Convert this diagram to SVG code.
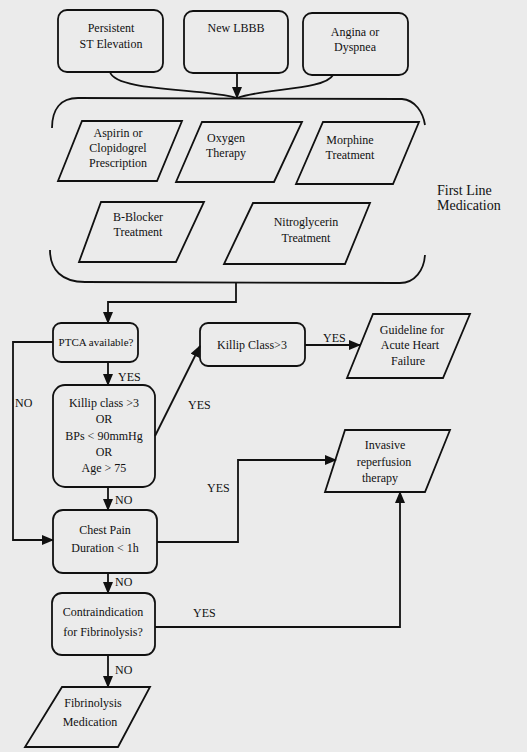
<svg xmlns="http://www.w3.org/2000/svg" width="527" height="752" viewBox="0 0 527 752">
  <style>
    .box { fill: none; stroke: #111; stroke-width: 1.8; }
    .io { fill: none; stroke: #111; stroke-width: 1.8; stroke-linejoin: miter; }
    .t { font-family: "Liberation Serif", "Times New Roman", serif; font-size: 12px; fill: #111; text-anchor: middle; }
    .sm { font-size: 11px; }
    .lbl { font-family: "Liberation Serif", "Times New Roman", serif; font-size: 12px; fill: #111; }
    .big { font-family: "Liberation Serif", "Times New Roman", serif; font-size: 14px; fill: #111; }
    .wire { fill: none; stroke: #111; stroke-width: 1.8; }
  </style>
  <defs>
    <marker id="arrow" markerWidth="12" markerHeight="10" refX="11" refY="5" orient="auto" markerUnits="userSpaceOnUse">
      <path d="M0,0 L12,5 L0,10 Z" fill="#111"/>
    </marker>
  </defs>

  <rect width="527" height="752" fill="#ebebeb"/>

  <!-- presenting signs -->
  <g id="persistent-st">
    <rect class="box" x="58" y="10" width="105" height="62" rx="9"/>
    <text class="t" x="111" y="32">Persistent</text>
    <text class="t" x="111" y="48">ST Elevation</text>
  </g>
  <g id="new-lbbb">
    <rect class="box" x="184" y="11" width="104" height="62" rx="9"/>
    <text class="t" x="236" y="32">New LBBB</text>
  </g>
  <g id="angina">
    <rect class="box" x="303" y="13" width="105" height="62" rx="9"/>
    <text class="t" x="355" y="36">Angina or</text>
    <text class="t" x="355" y="51">Dyspnea</text>
  </g>

  <!-- first line medication group -->
  <g id="first-line">
    <path class="wire" d="M52,128 C52,110 60,98 78,98 L402,99 C415,100 423,112 425,125"/>
    <path class="wire" d="M50,250 C50,270 62,282 85,282 L400,283 C415,283 424,270 425,255"/>
    <text class="big" x="437" y="195">First Line</text>
    <text class="big" x="437" y="210">Medication</text>
  </g>
  <g id="aspirin">
    <polygon class="io" points="82,121 182,121 157,181 58,181"/>
    <text class="t" x="118" y="137">Aspirin or</text>
    <text class="t" x="118" y="152">Clopidogrel</text>
    <text class="t" x="118" y="167">Prescription</text>
  </g>
  <g id="oxygen">
    <polygon class="io" points="202,122 302,122 274,182 176,182"/>
    <text class="t" x="226" y="142">Oxygen</text>
    <text class="t" x="226" y="157">Therapy</text>
  </g>
  <g id="morphine">
    <polygon class="io" points="323,122 419,122 393,184 296,184"/>
    <text class="t" x="350" y="144">Morphine</text>
    <text class="t" x="350" y="159">Treatment</text>
  </g>
  <g id="b-blocker">
    <polygon class="io" points="101,202 204,202 176,262 79,262"/>
    <text class="t" x="138" y="221">B-Blocker</text>
    <text class="t" x="138" y="236">Treatment</text>
  </g>
  <g id="nitroglycerin">
    <polygon class="io" points="253,203 370,203 345,264 224,264"/>
    <text class="t" x="306" y="226">Nitroglycerin</text>
    <text class="t" x="306" y="242">Treatment</text>
  </g>

  <!-- decisions -->
  <g id="ptca">
    <rect class="box" x="53" y="323" width="85" height="39" rx="8"/>
    <text class="t sm" x="96" y="346">PTCA available?</text>
  </g>
  <g id="killip-class">
    <rect class="box" x="200" y="323" width="105" height="43" rx="8"/>
    <text class="t" x="252" y="349">Killip Class&gt;3</text>
  </g>
  <g id="heart-failure">
    <polygon class="io" points="373,314 470,314 443,378 347,378"/>
    <text class="t" x="412" y="334">Guideline for</text>
    <text class="t" x="410" y="349">Acute Heart</text>
    <text class="t" x="408" y="365">Failure</text>
  </g>
  <g id="risk">
    <rect class="box" x="53" y="385" width="102" height="102" rx="12"/>
    <text class="t" x="104" y="407">Killip class &gt;3</text>
    <text class="t" x="104" y="423">OR</text>
    <text class="t" x="104" y="440">BPs &lt; 90mmHg</text>
    <text class="t" x="104" y="456">OR</text>
    <text class="t" x="104" y="472">Age &gt; 75</text>
  </g>
  <g id="invasive">
    <polygon class="io" points="345,430 450,430 425,492 325,492"/>
    <text class="t" x="385" y="449">Invasive</text>
    <text class="t" x="384" y="466">reperfusion</text>
    <text class="t" x="380" y="482">therapy</text>
  </g>
  <g id="chest-pain">
    <rect class="box" x="53" y="510" width="104" height="63" rx="10"/>
    <text class="t" x="105" y="534">Chest Pain</text>
    <text class="t" x="105" y="552">Duration &lt; 1h</text>
  </g>
  <g id="contraindication">
    <rect class="box" x="52" y="593" width="103" height="62" rx="10"/>
    <text class="t" x="103" y="616">Contraindication</text>
    <text class="t" x="103" y="636">for Fibrinolysis?</text>
  </g>
  <g id="fibrinolysis">
    <polygon class="io" points="62,687 150,687 118,747 25,747"/>
    <text class="t" x="93" y="707">Fibrinolysis</text>
    <text class="t" x="90" y="726">Medication</text>
  </g>

  <!-- connectors -->
  <g id="connectors">
    <path class="wire" d="M110,72 C116,92 205,88 237,98"/>
    <path class="wire" d="M237,73 L237,98" marker-end="url(#arrow)"/>
    <path class="wire" d="M333,75 C325,90 265,88 237,98"/>
    <path class="wire" d="M236,283 L236,302 L108,302 L108,323" marker-end="url(#arrow)"/>
    <path class="wire" d="M53,342 L13,342 L13,540 L53,540" marker-end="url(#arrow)"/>
    <path class="wire" d="M108,362 L108,385" marker-end="url(#arrow)"/>
    <path class="wire" d="M155,436 L200,346" marker-end="url(#arrow)"/>
    <path class="wire" d="M305,345 L360,345" marker-end="url(#arrow)"/>
    <path class="wire" d="M108,487 L108,510" marker-end="url(#arrow)"/>
    <path class="wire" d="M157,542 L238,542 L238,460 L336,460" marker-end="url(#arrow)"/>
    <path class="wire" d="M108,573 L108,593" marker-end="url(#arrow)"/>
    <path class="wire" d="M155,627 L400,627 L400,492" marker-end="url(#arrow)"/>
    <path class="wire" d="M108,655 L108,687" marker-end="url(#arrow)"/>

    <text class="lbl" x="118" y="381">YES</text>
    <text class="lbl" x="15" y="407">NO</text>
    <text class="lbl" x="188" y="409">YES</text>
    <text class="lbl" x="323" y="342">YES</text>
    <text class="lbl" x="115" y="504">NO</text>
    <text class="lbl" x="207" y="492">YES</text>
    <text class="lbl" x="115" y="586">NO</text>
    <text class="lbl" x="193" y="617">YES</text>
    <text class="lbl" x="115" y="674">NO</text>
  </g>
</svg>
